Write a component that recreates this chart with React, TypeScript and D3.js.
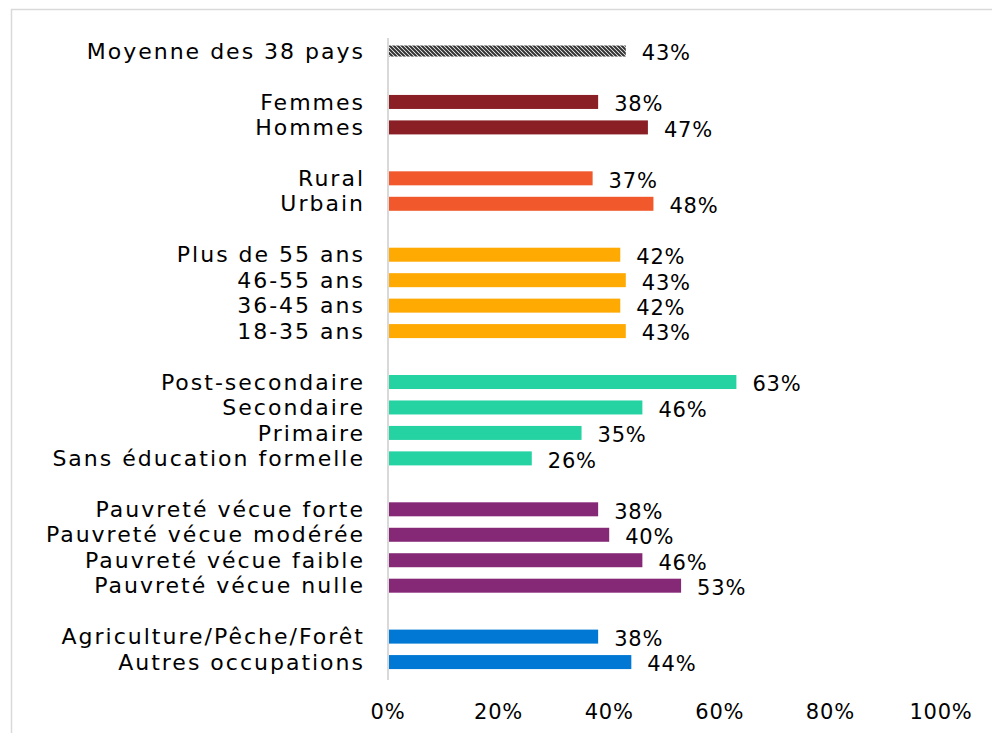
import React from 'react';
import { scaleBand, scaleLinear } from 'd3';

const groupNames = ['moyenne', 'sexe', 'milieu', 'age', 'education', 'pauvrete', 'occupation'];
const groupColors = ['url(#hatch)', '#8A1F25', '#F1582B', '#FFA903', '#25D3A2', '#852876', '#0078D4'];

const labels = [
  ['Moyenne des 38 pays'],
  ['Femmes', 'Hommes'],
  ['Rural', 'Urbain'],
  ['Plus de 55 ans', '46-55 ans', '36-45 ans', '18-35 ans'],
  ['Post-secondaire', 'Secondaire', 'Primaire', 'Sans éducation formelle'],
  ['Pauvreté vécue forte', 'Pauvreté vécue modérée', 'Pauvreté vécue faible', 'Pauvreté vécue nulle'],
  ['Agriculture/Pêche/Forêt', 'Autres occupations'],
];

const values = [
  [0.43],
  [0.38, 0.47],
  [0.37, 0.48],
  [0.42, 0.43, 0.42, 0.43],
  [0.63, 0.46, 0.35, 0.26],
  [0.38, 0.40, 0.46, 0.53],
  [0.38, 0.44],
];

const ticks = [0, 0.2, 0.4, 0.6, 0.8, 1];

const width = 992;
const height = 733;
const font = "'DejaVu Sans', sans-serif";
const labelSpacing = 2;

// one slot per bar, plus an empty slot between groups
const rows: { key: string; label: string; value: number; group: number }[] = [];
const slots: string[] = [];
labels.forEach((g, gi) => {
  if (gi > 0) slots.push('gap' + gi);
  g.forEach((label, i) => {
    rows.push({ key: label, label, value: values[gi][i], group: gi });
    slots.push(label);
  });
});

const App = () => {
  const y = scaleBand()
    .domain(slots)
    .range([38.3, 674.8])
    .paddingInner(0.45)
    .paddingOuter(0.225);

  const x = scaleLinear().domain([0, 1]).range([388, 941]);
  const fmt = (v: number) => Math.round(v * 100) + '%';

  return (
    <svg width={width} height={height} style={{ position: 'absolute', left: 0, top: 0, fontFamily: font }}>
      <defs>
        <pattern id="hatch" patternUnits="userSpaceOnUse" width={4} height={4}>
          <rect width={4} height={4} fill="#fff" />
          <path d="M-1,-1 L5,5 M-1,3 L1,5 M3,-1 L5,1" stroke="#333" strokeWidth={2} />
        </pattern>
      </defs>
      <rect x={0} y={0} width={width} height={height} fill="#fff" />
      <path d="M11.5,733 V9.5 H992" fill="none" stroke="#d9d9d9" strokeWidth={1.5} />

      {rows.map(d => {
        const by = y(d.key)!;
        const bh = y.bandwidth();
        const cy = by + bh / 2;
        return (
          <g key={d.key}>
            <text x={363 + labelSpacing} y={cy} dy="0.35em" textAnchor="end" fontSize={22} letterSpacing={labelSpacing} fill="#000">
              {d.label}
            </text>
            <rect
              x={x(0)}
              y={d.group === 0 ? by + 1.5 : by}
              width={x(d.value) - x(0)}
              height={d.group === 0 ? bh - 3 : bh}
              fill={groupColors[d.group]}
            />
            <text x={x(d.value) + 16} y={cy + 2} dy="0.35em" fontSize={21} letterSpacing={0.8} fill="#000">
              {fmt(d.value)}
            </text>
          </g>
        );
      })}

      <line x1={x(0)} x2={x(0)} y1={38} y2={680} stroke="#d9d9d9" strokeWidth={2} />

      {ticks.map(t => (
        <text key={t} x={x(t)} y={712} dy="0.35em" textAnchor="middle" fontSize={21} letterSpacing={0.8} fill="#000">
          {fmt(t)}
        </text>
      ))}
    </svg>
  );
};

export default App;
